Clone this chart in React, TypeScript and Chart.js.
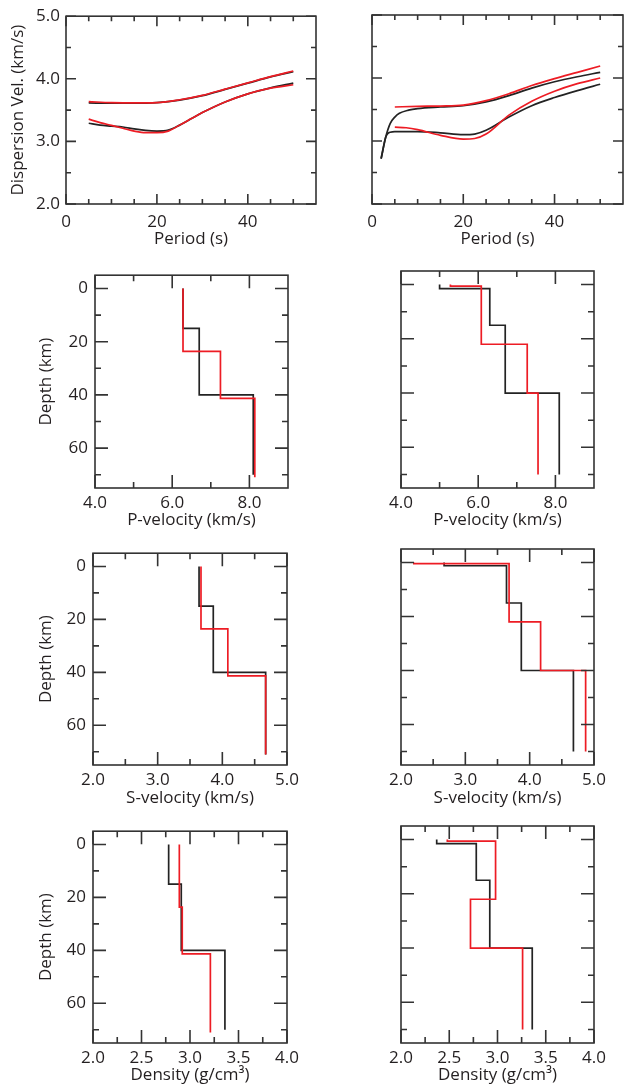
import React, { useEffect, useRef } from 'react';
import { Chart, registerables } from 'chart.js';

Chart.register(...registerables);

const INK = '#231f20';
const FRAME = '#333333';
const BLACK = '#232323';
const RED = '#ed1c24';
const FONT = '"Open Sans", "DejaVu Sans", sans-serif';
const FONT_SIZE = 17;
const HALF_LH = (FONT_SIZE * 1.2) / 2;

// ---------- Dispersion curves (left) ----------
const periodUpperL = [5, 10, 15, 20, 25, 30, 35, 40, 45, 50];
const upperBlackL = [3.615, 3.61, 3.61, 3.62, 3.66, 3.73, 3.83, 3.93, 4.03, 4.115];
const upperRedL = [3.635, 3.62, 3.615, 3.62, 3.665, 3.735, 3.835, 3.935, 4.035, 4.125];
const periodLowerL = [5, 7.5, 10, 12.5, 15, 17.5, 20, 22.5, 25, 27.5, 30, 35, 40, 45, 50];
const lowerBlackL = [3.29, 3.26, 3.245, 3.23, 3.2, 3.175, 3.165, 3.18, 3.26, 3.36, 3.46, 3.63, 3.76, 3.855, 3.93];
const lowerRedL = [3.355, 3.3, 3.255, 3.21, 3.165, 3.14, 3.14, 3.165, 3.26, 3.36, 3.46, 3.63, 3.76, 3.85, 3.905];

// ---------- Dispersion curves (right) ----------
const periodUpperBlackR = [2, 3, 4, 5, 6, 8, 10, 15, 20, 25, 30, 35, 40, 45, 50];
const upperBlackR = [2.72, 3.06, 3.28, 3.38, 3.44, 3.49, 3.515, 3.54, 3.56, 3.62, 3.72, 3.84, 3.94, 4.02, 4.09];
const periodUpperRedR = [5, 10, 15, 20, 25, 30, 35, 40, 45, 50];
const upperRedR = [3.54, 3.55, 3.555, 3.57, 3.64, 3.75, 3.88, 3.99, 4.09, 4.19];
const periodLowerBlackR = [2, 3, 3.5, 4, 5, 7.5, 10, 15, 20, 22.5, 25, 30, 35, 40, 45, 50];
const lowerBlackR = [2.72, 3.06, 3.12, 3.14, 3.15, 3.15, 3.15, 3.13, 3.1, 3.11, 3.17, 3.38, 3.56, 3.69, 3.8, 3.9];
const periodLowerRedR = [5, 7.5, 10, 15, 20, 22.5, 25, 30, 35, 40, 45, 50];
const lowerRedR = [3.22, 3.21, 3.18, 3.09, 3.03, 3.04, 3.11, 3.41, 3.63, 3.79, 3.91, 4.0];

// ---------- Layered models (depth boundaries, layer values) ----------
const pLeftBlackDepth = [0, 15, 40, 70];
const pLeftBlackVel = [6.28, 6.7, 8.1];
const pLeftRedDepth = [0, 23.6, 41.3, 71];
const pLeftRedVel = [6.28, 7.25, 8.14];

const pRightBlackDepth = [0, 1.5, 15, 40, 70];
const pRightBlackVel = [5.0, 6.3, 6.7, 8.1];
const pRightRedDepth = [0, 0.6, 22, 40, 70];
const pRightRedVel = [5.28, 6.08, 7.27, 7.55];

const sLeftBlackDepth = [0, 15, 40, 71];
const sLeftBlackVel = [3.64, 3.86, 4.67];
const sLeftRedDepth = [0, 23.6, 41.3, 71];
const sLeftRedVel = [3.67, 4.085, 4.67];

const sRightBlackDepth = [0, 1.2, 15, 40, 70];
const sRightBlackVel = [2.67, 3.64, 3.87, 4.68];
const sRightRedDepth = [0, 0.4, 22, 40, 70];
const sRightRedVel = [2.2, 3.68, 4.17, 4.87];

const rhoLeftBlackDepth = [0, 15, 40, 70];
const rhoLeftBlackVal = [2.78, 2.91, 3.36];
const rhoLeftRedDepth = [0, 23.7, 41.3, 71];
const rhoLeftRedVal = [2.89, 2.92, 3.21];

const rhoRightBlackDepth = [0, 1.5, 15, 40, 70];
const rhoRightBlackVal = [2.37, 2.78, 2.92, 3.36];
const rhoRightRedDepth = [0, 0.6, 22, 40, 70];
const rhoRightRedVal = [2.48, 2.98, 2.72, 3.26];

// ---------- Ticks ----------
const periodTicks = [0, 20, 40];
const periodLabels = ['0', '20', '40'];
const periodMinor = [5, 10, 15, 25, 30, 35, 45, 50];
const dispTicks = [2, 3, 4, 5];
const dispLabels = ['2.0', '3.0', '4.0', '5.0'];
const dispMinor = [2.5, 3.5, 4.5];
const depthTicks = [0, 20, 40, 60];
const depthLabels = ['0', '20', '40', '60'];
const depthMinor = [10, 30, 50, 70];
const pTicks = [4, 6, 8];
const pLabels = ['4.0', '6.0', '8.0'];
const pMinor = [5, 7];
const sTicks = [2, 3, 4, 5];
const sLabels = ['2.0', '3.0', '4.0', '5.0'];
const sMinor = [2.5, 3.5, 4.5];
const rhoTicks = [2, 2.5, 3, 3.5, 4];
const rhoLabels = ['2.0', '2.5', '3.0', '3.5', '4.0'];
const rhoMinor = [2.25, 2.75, 3.25, 3.75];

const curve = (xs: number[], ys: number[]) => xs.map((x, i) => ({ x, y: ys[i] }));
const steps = (depths: number[], vals: number[]) => {
  const pts: { x: number; y: number }[] = [];
  vals.forEach((v, i) => {
    pts.push({ x: v, y: depths[i] });
    pts.push({ x: v, y: depths[i + 1] });
  });
  return pts;
};

const frameTicks = {
  id: 'frameTicks',
  afterDraw(chart: any, _args: any, opts: any) {
    const { ctx, chartArea: a, scales } = chart;
    const xs = scales.x;
    const ys = scales.y;
    ctx.save();
    ctx.strokeStyle = FRAME;
    ctx.lineWidth = 1.6;
    ctx.lineCap = 'butt';
    ctx.beginPath();
    const seg = (x1: number, y1: number, x2: number, y2: number) => {
      ctx.moveTo(x1, y1);
      ctx.lineTo(x2, y2);
    };
    const xt = (vals: number[], len: number) =>
      vals.forEach((v) => {
        const p = xs.getPixelForValue(v);
        seg(p, a.bottom, p, a.bottom - len);
        seg(p, a.top, p, a.top + len);
      });
    const yt = (vals: number[], len: number) =>
      vals.forEach((v) => {
        const p = ys.getPixelForValue(v);
        seg(a.left, p, a.left + len, p);
        seg(a.right, p, a.right - len, p);
      });
    xt(opts.xMajor, opts.major);
    xt(opts.xMinor, opts.minor);
    yt(opts.yMajor, opts.major);
    yt(opts.yMinor, opts.minor);
    ctx.stroke();
    ctx.strokeRect(a.left, a.top, a.right - a.left, a.bottom - a.top);
    ctx.restore();
  },
};

interface AxisSpec {
  min: number;
  max: number;
  reverse?: boolean;
  major: number[];
  labels: string[];
  minor: number[];
  title?: string;
  showLabels: boolean;
  labelAt: number; // label centre offset from axis line
  titleAt?: number;
}
interface Spec {
  box: [number, number, number, number];
  plot: [number, number, number, number];
  x: AxisSpec;
  y: AxisSpec;
  lens: [number, number];
  smooth: boolean;
  series: { data: { x: number; y: number }[]; color: string }[];
}

function Panel({ spec }: { spec: Spec }) {
  const ref = useRef<HTMLCanvasElement>(null);
  useEffect(() => {
    const [bx, by, bw, bh] = spec.box;
    const [pl, pt, pr, pb] = spec.plot;
    const yW = pl - bx;
    const xH = by + bh - pb;
    const font = { family: FONT, size: FONT_SIZE, lineHeight: 1.2 };
    const chart = new Chart(ref.current as HTMLCanvasElement, {
      type: 'scatter',
      data: {
        datasets: spec.series.map((s) => ({
          data: s.data,
          showLine: true,
          borderColor: s.color,
          backgroundColor: s.color,
          borderWidth: 1.7,
          pointRadius: 0,
          tension: 0,
          cubicInterpolationMode: spec.smooth ? 'monotone' : 'default',
        })),
      } as any,
      options: {
        animation: false,
        responsive: false,
        maintainAspectRatio: false,
        layout: { padding: { left: 0, top: pt - by, right: bx + bw - pr, bottom: 0 } },
        plugins: {
          legend: { display: false },
          tooltip: { enabled: false },
          frameTicks: {
            xMajor: spec.x.major,
            xMinor: spec.x.minor,
            yMajor: spec.y.major,
            yMinor: spec.y.minor,
            major: spec.lens[0],
            minor: spec.lens[1],
          },
        } as any,
        scales: {
          x: {
            type: 'linear',
            position: 'bottom',
            min: spec.x.min,
            max: spec.x.max,
            afterBuildTicks: (s: any) => {
              s.ticks = spec.x.major.map((v) => ({ value: v }));
            },
            afterFit: (s: any) => {
              s.height = xH;
            },
            ticks: {
              display: spec.x.showLabels,
              autoSkip: false,
              maxRotation: 0,
              minRotation: 0,
              padding: spec.x.labelAt - HALF_LH,
              color: INK,
              font,
              callback: (_v: any, i: number) => spec.x.labels[i] ?? '',
            },
            grid: { display: false, drawTicks: false },
            border: { display: false },
            title: {
              display: !!spec.x.title,
              text: spec.x.title,
              color: INK,
              font,
              padding: { top: 0, bottom: by + bh - (spec.x.titleAt ?? 0) - HALF_LH },
            },
          },
          y: {
            type: 'linear',
            position: 'left',
            min: spec.y.min,
            max: spec.y.max,
            reverse: !!spec.y.reverse,
            afterBuildTicks: (s: any) => {
              s.ticks = spec.y.major.map((v) => ({ value: v }));
            },
            afterFit: (s: any) => {
              s.width = yW;
            },
            ticks: {
              display: spec.y.showLabels,
              autoSkip: false,
              padding: spec.y.labelAt,
              color: INK,
              font,
              callback: (_v: any, i: number) => spec.y.labels[i] ?? '',
            },
            grid: { display: false, drawTicks: false },
            border: { display: false },
            title: {
              display: !!spec.y.title,
              text: spec.y.title,
              color: INK,
              font,
              padding: { top: (spec.y.titleAt ?? 0) - bx - HALF_LH, bottom: 0 },
            },
          },
        },
      } as any,
      plugins: [frameTicks],
    });
    return () => chart.destroy();
  }, [spec]);
  const [bx, by, bw, bh] = spec.box;
  return (
    <canvas
      ref={ref}
      width={bw}
      height={bh}
      style={{ position: 'absolute', left: bx, top: by, width: bw, height: bh }}
    />
  );
}

const dispX = (titleAt: number): AxisSpec => ({
  min: 0, max: 55, major: periodTicks, labels: periodLabels, minor: periodMinor,
  title: 'Period (s)', showLabels: true, labelAt: 18, titleAt,
});
const dispY = (left: boolean): AxisSpec => ({
  min: 2, max: 5, major: dispTicks, labels: dispLabels, minor: dispMinor,
  title: left ? 'Dispersion Vel. (km/s)' : undefined, showLabels: left, labelAt: 6, titleAt: 18,
});
const depthY = (left: boolean): AxisSpec => ({
  min: -5, max: 75, reverse: true, major: depthTicks, labels: depthLabels, minor: depthMinor,
  title: left ? 'Depth (km)' : undefined, showLabels: left, labelAt: 7, titleAt: 46,
});
const pX = (titleAt: number): AxisSpec => ({
  min: 4, max: 9, major: pTicks, labels: pLabels, minor: pMinor,
  title: 'P-velocity (km/s)', showLabels: true, labelAt: 15, titleAt,
});
const sX = (titleAt: number): AxisSpec => ({
  min: 2, max: 5, major: sTicks, labels: sLabels, minor: sMinor,
  title: 'S-velocity (km/s)', showLabels: true, labelAt: 15, titleAt,
});
const rhoX = (titleAt: number): AxisSpec => ({
  min: 2, max: 4, major: rhoTicks, labels: rhoLabels, minor: rhoMinor,
  title: 'Density (g/cm\u00B3)', showLabels: true, labelAt: 15, titleAt,
});

const specs: Spec[] = [
  {
    box: [0, 0, 322, 256], plot: [66, 15, 316, 204], x: dispX(239), y: dispY(true), lens: [10, 5], smooth: true,
    series: [
      { data: curve(periodUpperL, upperRedL), color: RED },
      { data: curve(periodLowerL, lowerRedL), color: RED },
      { data: curve(periodUpperL, upperBlackL), color: BLACK },
      { data: curve(periodLowerL, lowerBlackL), color: BLACK },
    ],
  },
  {
    box: [322, 0, 303, 256], plot: [372, 15, 623, 204], x: dispX(239), y: dispY(false), lens: [10, 5], smooth: true,
    series: [
      { data: curve(periodUpperRedR, upperRedR), color: RED },
      { data: curve(periodLowerRedR, lowerRedR), color: RED },
      { data: curve(periodUpperBlackR, upperBlackR), color: BLACK },
      { data: curve(periodLowerBlackR, lowerBlackR), color: BLACK },
    ],
  },
  {
    box: [0, 258, 315, 276], plot: [95, 271, 288, 488], x: pX(520), y: depthY(true), lens: [13, 6], smooth: false,
    series: [
      { data: steps(pLeftRedDepth, pLeftRedVel), color: RED },
      { data: steps(pLeftBlackDepth, pLeftBlackVel), color: BLACK },
    ],
  },
  {
    box: [315, 258, 310, 276], plot: [401, 271, 594, 488], x: pX(520), y: depthY(false), lens: [13, 6], smooth: false,
    series: [
      { data: steps(pRightRedDepth, pRightRedVel), color: RED },
      { data: steps(pRightBlackDepth, pRightBlackVel), color: BLACK },
    ],
  },
  {
    box: [0, 536, 315, 276], plot: [93, 549, 287, 765], x: sX(798), y: depthY(true), lens: [13, 6], smooth: false,
    series: [
      { data: steps(sLeftRedDepth, sLeftRedVel), color: RED },
      { data: steps(sLeftBlackDepth, sLeftBlackVel), color: BLACK },
    ],
  },
  {
    box: [315, 536, 310, 276], plot: [401, 549, 594, 765], x: sX(798), y: depthY(false), lens: [13, 6], smooth: false,
    series: [
      { data: steps(sRightRedDepth, sRightRedVel), color: RED },
      { data: steps(sRightBlackDepth, sRightBlackVel), color: BLACK },
    ],
  },
  {
    box: [0, 814, 315, 274], plot: [93, 826, 287, 1043], x: rhoX(1075), y: depthY(true), lens: [13, 6], smooth: false,
    series: [
      { data: steps(rhoLeftRedDepth, rhoLeftRedVal), color: RED },
      { data: steps(rhoLeftBlackDepth, rhoLeftBlackVal), color: BLACK },
    ],
  },
  {
    box: [315, 814, 310, 274], plot: [401, 826, 594, 1043], x: rhoX(1075), y: depthY(false), lens: [13, 6], smooth: false,
    series: [
      { data: steps(rhoRightRedDepth, rhoRightRedVal), color: RED },
      { data: steps(rhoRightBlackDepth, rhoRightBlackVal), color: BLACK },
    ],
  },
];

export default function App() {
  return (
    <div style={{ position: 'absolute', left: 0, top: 0, width: 625, height: 1088, background: '#fff', overflow: 'hidden' }}>
      {specs.map((s, i) => (
        <Panel key={i} spec={s} />
      ))}
    </div>
  );
}
